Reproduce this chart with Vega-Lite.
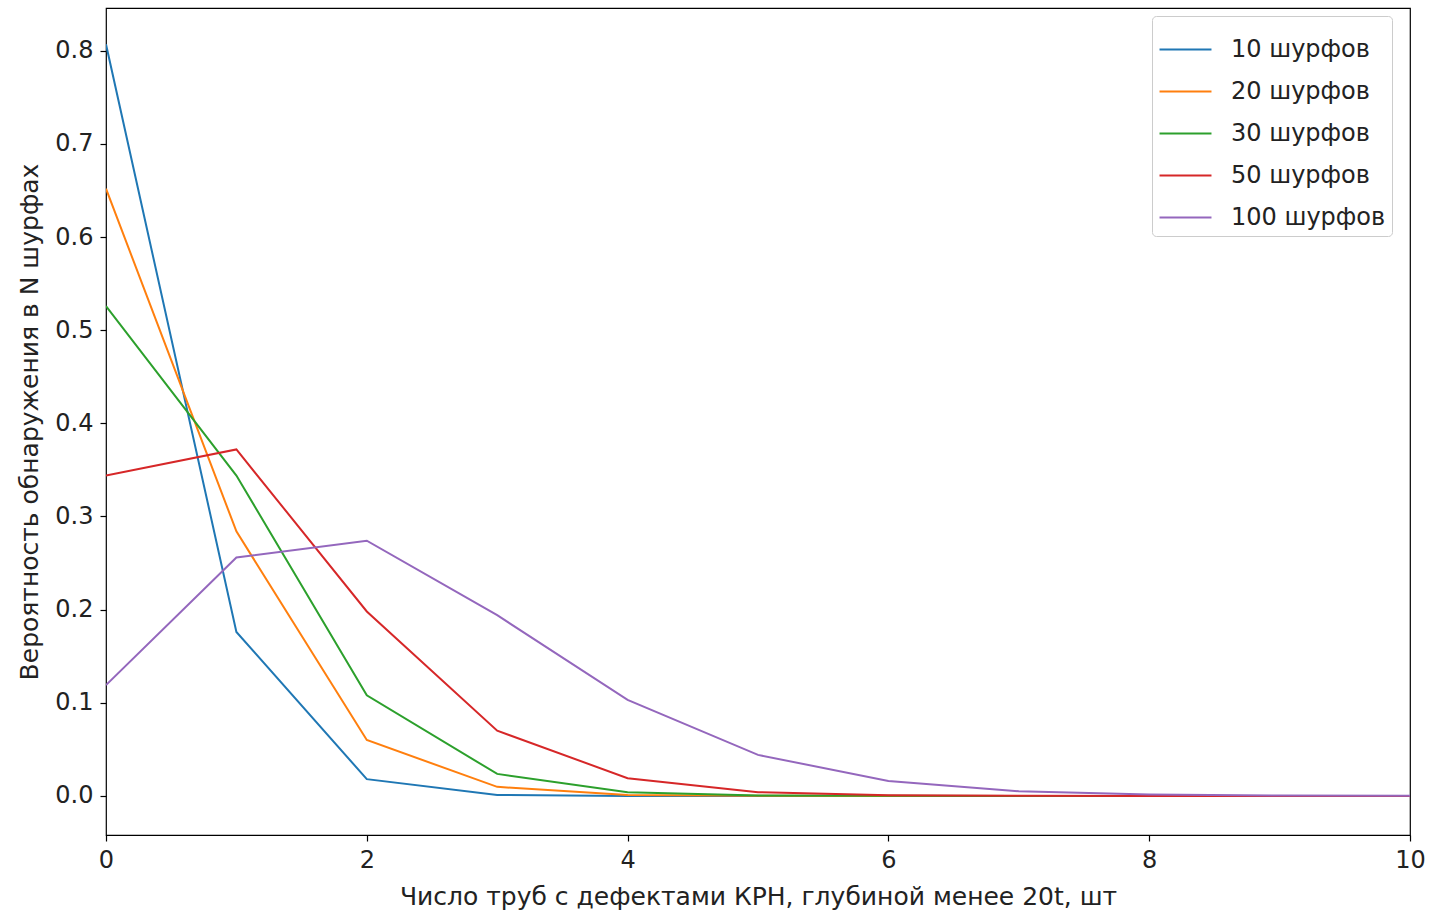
{
  "$schema": "https://vega.github.io/schema/vega-lite/v6.json",
  "width": 1304,
  "height": 827,
  "autosize": {"type": "none"},
  "padding": {"left": 106, "top": 8, "right": 23, "bottom": 80},
  "background": "white",
  "config": {
    "view": {"stroke": "black", "strokeWidth": 1.2},
    "font": "DejaVu Sans",
    "axis": {
      "grid": false,
      "domain": false,
      "tickColor": "black",
      "tickSize": 6,
      "tickWidth": 1.2,
      "labelFont": "DejaVu Sans",
      "labelFontSize": 24,
      "labelColor": "#222",
      "labelFlush": false,
      "titleFont": "DejaVu Sans",
      "titleFontSize": 25,
      "titleFontWeight": "normal",
      "titleColor": "#222",
      "labelPadding": 7
    }
  },
  "data": {
    "values": [
      {"s": "10 шурфов", "x": 0, "y": 0.807},
      {"s": "10 шурфов", "x": 1, "y": 0.176},
      {"s": "10 шурфов", "x": 2, "y": 0.018},
      {"s": "10 шурфов", "x": 3, "y": 0.001},
      {"s": "10 шурфов", "x": 4, "y": 0.0},
      {"s": "10 шурфов", "x": 5, "y": 0.0},
      {"s": "10 шурфов", "x": 6, "y": 0.0},
      {"s": "10 шурфов", "x": 7, "y": 0.0},
      {"s": "10 шурфов", "x": 8, "y": 0.0},
      {"s": "10 шурфов", "x": 9, "y": 0.0},
      {"s": "10 шурфов", "x": 10, "y": 0.0},
      {"s": "20 шурфов", "x": 0, "y": 0.652},
      {"s": "20 шурфов", "x": 1, "y": 0.284},
      {"s": "20 шурфов", "x": 2, "y": 0.06},
      {"s": "20 шурфов", "x": 3, "y": 0.0097},
      {"s": "20 шурфов", "x": 4, "y": 0.001},
      {"s": "20 шурфов", "x": 5, "y": 0.0001},
      {"s": "20 шурфов", "x": 6, "y": 0.0},
      {"s": "20 шурфов", "x": 7, "y": 0.0},
      {"s": "20 шурфов", "x": 8, "y": 0.0},
      {"s": "20 шурфов", "x": 9, "y": 0.0},
      {"s": "20 шурфов", "x": 10, "y": 0.0},
      {"s": "30 шурфов", "x": 0, "y": 0.526},
      {"s": "30 шурфов", "x": 1, "y": 0.344},
      {"s": "30 шурфов", "x": 2, "y": 0.108},
      {"s": "30 шурфов", "x": 3, "y": 0.0236},
      {"s": "30 шурфов", "x": 4, "y": 0.004},
      {"s": "30 шурфов", "x": 5, "y": 0.0005},
      {"s": "30 шурфов", "x": 6, "y": 0.0001},
      {"s": "30 шурфов", "x": 7, "y": 0.0},
      {"s": "30 шурфов", "x": 8, "y": 0.0},
      {"s": "30 шурфов", "x": 9, "y": 0.0},
      {"s": "30 шурфов", "x": 10, "y": 0.0},
      {"s": "50 шурфов", "x": 0, "y": 0.344},
      {"s": "50 шурфов", "x": 1, "y": 0.372},
      {"s": "50 шурфов", "x": 2, "y": 0.198},
      {"s": "50 шурфов", "x": 3, "y": 0.07},
      {"s": "50 шурфов", "x": 4, "y": 0.019},
      {"s": "50 шурфов", "x": 5, "y": 0.004},
      {"s": "50 шурфов", "x": 6, "y": 0.0008},
      {"s": "50 шурфов", "x": 7, "y": 0.0001},
      {"s": "50 шурфов", "x": 8, "y": 0.0},
      {"s": "50 шурфов", "x": 9, "y": 0.0},
      {"s": "50 шурфов", "x": 10, "y": 0.0},
      {"s": "100 шурфов", "x": 0, "y": 0.119},
      {"s": "100 шурфов", "x": 1, "y": 0.256},
      {"s": "100 шурфов", "x": 2, "y": 0.274},
      {"s": "100 шурфов", "x": 3, "y": 0.194},
      {"s": "100 шурфов", "x": 4, "y": 0.103},
      {"s": "100 шурфов", "x": 5, "y": 0.044},
      {"s": "100 шурфов", "x": 6, "y": 0.016},
      {"s": "100 шурфов", "x": 7, "y": 0.005},
      {"s": "100 шурфов", "x": 8, "y": 0.0015},
      {"s": "100 шурфов", "x": 9, "y": 0.0004},
      {"s": "100 шурфов", "x": 10, "y": 0.0001}
    ]
  },
  "mark": {"type": "line", "strokeWidth": 2, "clip": true},
  "encoding": {
    "x": {
      "field": "x",
      "type": "quantitative",
      "scale": {"domain": [0, 10], "nice": false, "zero": false},
      "axis": {"values": [0, 2, 4, 6, 8, 10], "format": "d", "title": "Число труб с дефектами КРН, глубиной менее 20t, шт", "titlePadding": 12}
    },
    "y": {
      "field": "y",
      "type": "quantitative",
      "scale": {"domain": [-0.042, 0.846], "nice": false, "zero": false},
      "axis": {"values": [0, 0.1, 0.2, 0.3, 0.4, 0.5, 0.6, 0.7, 0.8], "format": ".1f", "title": "Вероятность обнаружения в N шурфах", "titlePadding": 12}
    },
    "color": {
      "field": "s",
      "type": "nominal",
      "sort": ["10 шурфов", "20 шурфов", "30 шурфов", "50 шурфов", "100 шурфов"],
      "scale": {
        "domain": ["10 шурфов", "20 шурфов", "30 шурфов", "50 шурфов", "100 шурфов"],
        "range": ["#1f77b4", "#ff7f0e", "#2ca02c", "#d62728", "#9467bd"]
      },
      "legend": {
        "title": null,
        "orient": "none",
        "legendX": 1046,
        "legendY": 8,
        "symbolType": "stroke",
        "symbolSize": 2700,
        "symbolStrokeWidth": 2.2,
        "labelFont": "DejaVu Sans",
        "labelFontSize": 24,
        "labelColor": "#222",
        "labelOffset": 18,
        "rowPadding": 2,
        "padding": 6,
        "fillColor": "white",
        "strokeColor": "#cccccc",
        "cornerRadius": 4
      }
    },
    "order": {"field": "x", "type": "quantitative"}
  }
}
